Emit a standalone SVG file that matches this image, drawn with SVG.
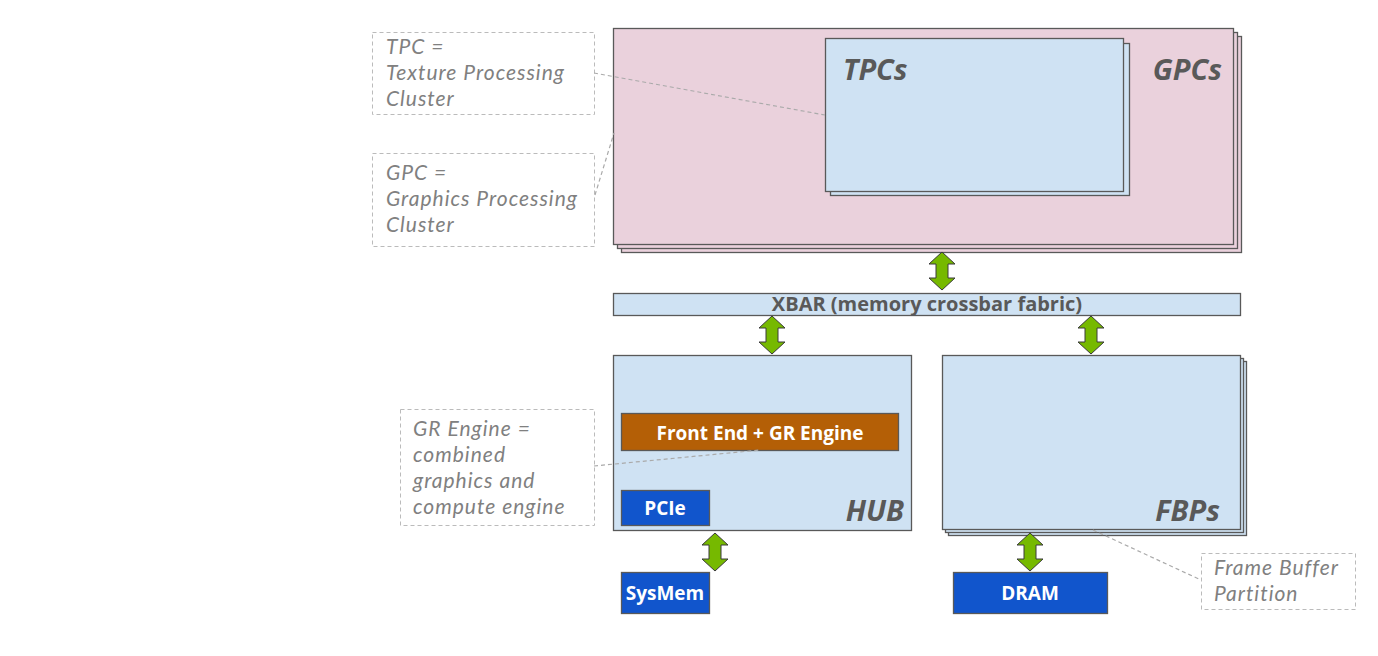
<svg xmlns="http://www.w3.org/2000/svg" width="1378" height="656" viewBox="0 0 1378 656">
<style>
.box{stroke:#595959;stroke-width:1.3}
.pink{fill:#EAD1DC}
.blue{fill:#CFE2F3}
.blk{fill:#1155CC}
.call{fill:#fff;stroke:#bbb;stroke-width:1;stroke-dasharray:4 3}
.lead{fill:none;stroke:#aaa;stroke-width:1.2;stroke-dasharray:4 3}
.ct{font-family:Lato,"Open Sans",sans-serif;font-style:italic;font-size:21px;letter-spacing:1px;fill:#808080}
.big{font-family:"Open Sans","DejaVu Sans",sans-serif;font-style:italic;font-weight:bold;font-size:29px;fill:#595959}
.wt{font-family:"Open Sans","DejaVu Sans",sans-serif;font-weight:bold;font-size:19px;fill:#fff;text-anchor:middle}
.xb{font-family:"Open Sans","DejaVu Sans",sans-serif;font-weight:bold;font-size:20px;fill:#595959;text-anchor:middle}
.arr{fill:#76B900;stroke:#3a3a3a;stroke-width:1}
</style>
<defs>
<path id="darr" class="arr" d="M0,0 L13,12 L6,12 L6,26 L13,26 L0,38 L-13,26 L-6,26 L-6,12 L-13,12 Z"/>
</defs>

<g id="callout-tpc">
<rect class="call" x="372.5" y="32.5" width="222" height="82"/>
<text class="ct" x="386" y="54">TPC =</text>
<text class="ct" x="386" y="80">Texture Processing</text>
<text class="ct" x="386" y="106">Cluster</text>
</g>
<g id="callout-gpc">
<rect class="call" x="372.5" y="153.5" width="222" height="93"/>
<text class="ct" x="386" y="180">GPC =</text>
<text class="ct" x="386" y="206">Graphics Processing</text>
<text class="ct" x="386" y="232">Cluster</text>
</g>
<g id="callout-gr">
<rect class="call" x="400.5" y="409.5" width="194" height="116"/>
<text class="ct" x="413" y="436">GR Engine =</text>
<text class="ct" x="413" y="462">combined</text>
<text class="ct" x="413" y="488">graphics and</text>
<text class="ct" x="413" y="514">compute engine</text>
</g>
<g id="callout-fbp">
<rect class="call" x="1201.5" y="553.5" width="154" height="56"/>
<text class="ct" x="1214" y="575">Frame Buffer</text>
<text class="ct" x="1214" y="601">Partition</text>
</g>

<g id="gpcs">
<rect class="box pink" x="621.5" y="36.5" width="620" height="216"/>
<rect class="box pink" x="617.5" y="32.5" width="620" height="216"/>
<rect class="box pink" x="613.5" y="28.5" width="620" height="216"/>
<text class="big" x="1222" y="80" text-anchor="end">GPCs</text>
</g>
<g id="tpcs">
<rect class="box blue" x="830.5" y="43.5" width="299" height="152"/>
<rect class="box blue" x="825.5" y="38.5" width="298" height="153"/>
<text class="big" x="843" y="80">TPCs</text>
</g>
<g id="xbar">
<rect class="box blue" x="613.5" y="293.5" width="627" height="22"/>
<text class="xb" x="927" y="311">XBAR (memory crossbar fabric)</text>
</g>
<g id="hub">
<rect class="box blue" x="613.5" y="355.5" width="298" height="175"/>
<text class="big" x="904" y="521" text-anchor="end">HUB</text>
</g>
<g id="frontend">
<rect class="box" fill="#B45F06" x="621.5" y="413.5" width="277" height="37"/>
<text class="wt" x="760" y="439.5" font-size="21">Front End + GR Engine</text>
</g>
<g id="pcie">
<rect class="box blk" x="621.5" y="490.5" width="88" height="35"/>
<text class="wt" x="665" y="514.5" font-size="20">PCIe</text>
</g>
<g id="sysmem">
<rect class="box blk" x="621.5" y="572.5" width="88" height="41"/>
<text class="wt" x="665" y="600">SysMem</text>
</g>
<g id="fbps">
<rect class="box blue" x="948.5" y="361.5" width="298" height="174"/>
<rect class="box blue" x="945.5" y="358.5" width="298" height="174"/>
<rect class="box blue" x="942.5" y="355.5" width="298" height="174"/>
<text class="big" x="1220" y="521" text-anchor="end">FBPs</text>
</g>
<g id="dram">
<rect class="box blk" x="953.5" y="572.5" width="154" height="41"/>
<text class="wt" x="1030" y="600">DRAM</text>
</g>

<g id="connectors">
<line class="lead" x1="594" y1="73" x2="825" y2="115"/>
<line class="lead" x1="595" y1="195" x2="614" y2="133"/>
<line class="lead" x1="594" y1="466" x2="760" y2="450"/>
<line class="lead" x1="1093" y1="530" x2="1201" y2="580"/>
<use href="#darr" x="942" y="252"/>
<use href="#darr" x="772" y="316"/>
<use href="#darr" x="1091" y="316"/>
<use href="#darr" x="715" y="533"/>
<use href="#darr" x="1030" y="533"/>
</g>
</svg>
